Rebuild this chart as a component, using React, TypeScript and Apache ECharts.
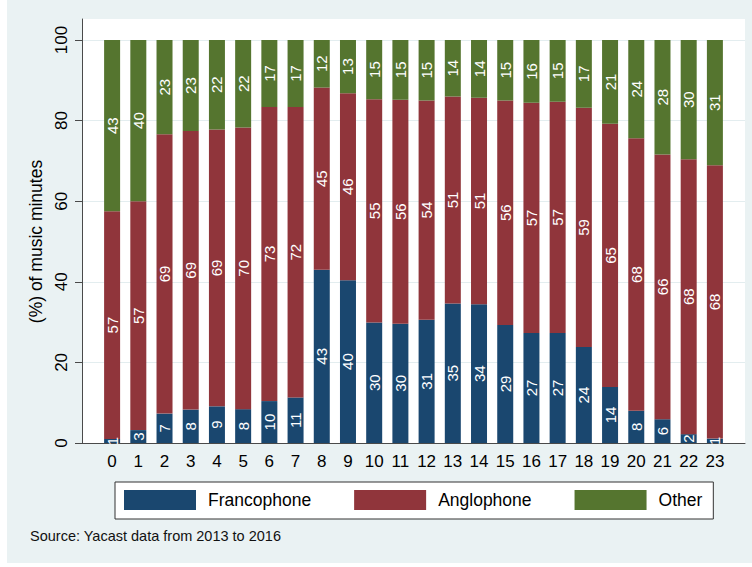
import React, { useEffect, useRef } from "react";
import * as echarts from "echarts";

const hours = ["0","1","2","3","4","5","6","7","8","9","10","11","12","13","14","15","16","17","18","19","20","21","22","23"];
const francophone = [1.0, 3.2, 7.3, 8.3, 9.1, 8.4, 10.4, 11.3, 43.0, 40.4, 29.9, 29.6, 30.6, 34.6, 34.4, 29.3, 27.3, 27.3, 23.8, 13.9, 8.0, 5.9, 2.2, 1.1];
const anglophone = [56.5, 56.8, 69.3, 69.1, 68.7, 69.9, 73.0, 72.1, 45.2, 46.4, 55.4, 55.6, 54.4, 51.4, 51.3, 55.7, 57.1, 57.4, 59.4, 65.3, 67.6, 65.7, 68.2, 67.8];
const other = [42.5, 40.0, 23.4, 22.6, 22.2, 21.7, 16.6, 16.6, 11.8, 13.2, 14.7, 14.8, 15.0, 14.0, 14.3, 15.0, 15.6, 15.3, 16.8, 20.8, 24.4, 28.4, 29.6, 31.1];
const seriesNames = ["Francophone", "Anglophone", "Other"];
const yTicks = [0, 20, 40, 60, 80, 100];
const sourceNote = "Source: Yacast data from 2013 to 2016";
const yTitle = "(%) of music minutes";

const COLORS = ["#1A476F", "#90353B", "#55752F"];
const FONT = "'Liberation Sans', Arial, Helvetica, sans-serif";
const AXIS_COLOR = "#4a4a4a";

export default function App() {
  const ref = useRef<HTMLDivElement>(null);
  useEffect(() => {
    if (!ref.current) return;
    const chart = echarts.init(ref.current, null, { renderer: "svg" });
    const mk = (name: string, data: number[], i: number) => ({
      name,
      type: "bar",
      stack: "total",
      xAxisIndex: 2,
      yAxisIndex: 2,
      barWidth: 16,
      data,
      itemStyle: { color: COLORS[i] },
      label: {
        show: true,
        position: "inside",
        rotate: 90,
        color: "#fff",
        fontSize: 15,
        fontFamily: FONT,
        formatter: (p: any) => String(Math.round(p.value)),
      },
    });
    chart.setOption({
      animation: false,
      backgroundColor: "#fff",
      textStyle: { fontFamily: FONT },
      graphic: [
        { type: "rect", z: -10, silent: true, shape: { x: 7, y: 0, width: 745, height: 563 }, style: { fill: "#EAF2F3" } },
        { type: "text", left: 30, top: 528, style: { text: sourceNote, fontSize: 14.5, fontFamily: FONT, fill: "#111" } },
      ],
      grid: [
        { left: 82, width: 663, top: 19, height: 424, show: true, backgroundColor: "#fff", borderWidth: 0, z: 0 },
        { left: 82, width: 663, top: 40, height: 403 },
        { left: 99, width: 629, top: 40, height: 403 },
      ],
      xAxis: [
        { gridIndex: 0, type: "value", min: 0, max: 1, axisLine: { show: true, onZero: false, lineStyle: { color: AXIS_COLOR, width: 1 } }, axisTick: { show: false }, axisLabel: { show: false }, splitLine: { show: false } },
        { gridIndex: 1, type: "value", min: 0, max: 1, show: false },
        {
          gridIndex: 2, type: "category", data: hours,
          axisLine: { show: false }, axisTick: { show: false },
          axisLabel: { color: "#000", fontSize: 17, fontFamily: FONT, margin: 10, interval: 0 },
        },
      ],
      yAxis: [
        { gridIndex: 0, type: "value", min: 0, max: 1, axisLine: { show: true, onZero: false, lineStyle: { color: AXIS_COLOR, width: 1 } }, axisTick: { show: false }, axisLabel: { show: false }, splitLine: { show: false } },
        {
          gridIndex: 1, type: "value", min: yTicks[0], max: yTicks[yTicks.length - 1], interval: 20,
          name: yTitle, nameLocation: "middle", nameGap: 32,
          nameTextStyle: { fontSize: 17.5, color: "#000", fontFamily: FONT },
          axisLine: { show: false },
          axisTick: { show: true, length: 7, lineStyle: { color: AXIS_COLOR } },
          axisLabel: { rotate: 90, fontSize: 17, color: "#000", fontFamily: FONT, margin: 12 },
          splitLine: { show: true, lineStyle: { color: "#E3EDEF", width: 1 } },
        },
        { gridIndex: 2, type: "value", min: 0, max: 100, show: false },
      ],
      legend: {
        data: seriesNames,
        left: 115,
        top: 482,
        orient: "horizontal",
        itemWidth: 72,
        itemHeight: 20,
        itemGap: 43,
        padding: [8, 11, 9, 9],
        borderColor: "#333",
        borderWidth: 1,
        backgroundColor: "#fff",
        icon: "rect",
        formatter: (n: string) => `{t|${n}}`,
        textStyle: {
          fontSize: 17, color: "#000", fontFamily: FONT,
          rich: { t: { fontSize: 17.5, color: "#000", fontFamily: FONT, padding: [0, 0, 0, 7] } },
        },
      },
      series: [
        mk(seriesNames[0], francophone, 0),
        mk(seriesNames[1], anglophone, 1),
        mk(seriesNames[2], other, 2),
      ],
    });
    return () => chart.dispose();
  }, []);
  return <div ref={ref} style={{ position: "fixed", left: 0, top: 0, width: 752, height: 567 }} />;
}
